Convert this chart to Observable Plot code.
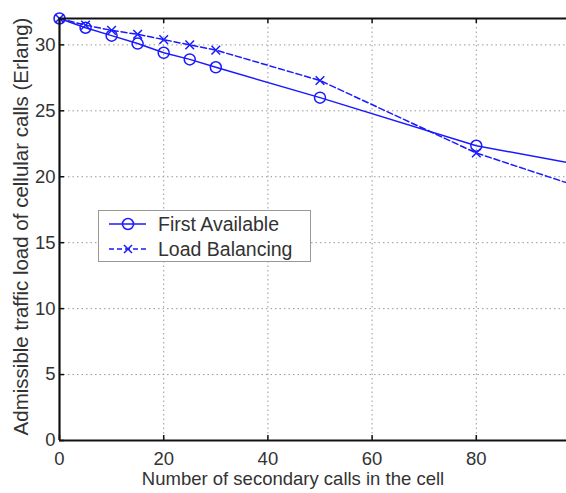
<!DOCTYPE html>
<html><head><meta charset="utf-8">
<script src="https://cdn.jsdelivr.net/npm/d3@7"></script>
<script src="https://cdn.jsdelivr.net/npm/@observablehq/plot@0.6"></script>
<style>
html,body{margin:0;padding:0;overflow:hidden;background:#fff;}
#chart{position:relative;width:566px;height:493px;overflow:hidden;font-family:"Liberation Sans",Arial,sans-serif;}
#chart > svg{display:block;max-width:none !important;width:580px;height:493px;}
#legend{position:absolute;left:98px;top:210px;width:213px;height:52px;border:1px solid #999;background:#fff;box-sizing:border-box;font-size:19.5px;color:#333;}
#legend .row{position:absolute;left:0;height:20px;}
#legend .row svg{position:absolute;left:10px;top:0;}
#legend .row span{position:absolute;left:59px;top:0;line-height:20px;white-space:nowrap;}
</style></head><body><div id="chart"><div id="legend"></div></div>
<script>
const secondaryCalls = [0, 5, 10, 15, 20, 25, 30, 50, 80, 100];
const firstAvailable = [32, 31.3, 30.7, 30.1, 29.4, 28.9, 28.3, 26.0, 22.35, 20.9];
const loadBalancing  = [32, 31.5, 31.1, 30.8, 30.4, 30.0, 29.6, 27.3, 21.8, 19.2];
const xTicks = [0, 20, 40, 60, 80];
const yTicks = [0, 5, 10, 15, 20, 25, 30];
const xDomain = [0, 100];
const yDomain = [0, 32];
const seriesNames = ["First Available", "Load Balancing"];
const xLabel = "Number of secondary calls in the cell";
const yLabel = "Admissible traffic load of cellular calls (Erlang)";

const blue = "#1a1aff";
const W = 580, H = 493, ML = 59, MT = 18, MB = 53, MR = 0;
const PW = W - ML - MR, PH = H - MT - MB;
const fa = secondaryCalls.map((x, i) => ({x, y: firstAvailable[i]}));
const lb = secondaryCalls.map((x, i) => ({x, y: loadBalancing[i]}));

const chart = Plot.plot({
  width: W, height: H,
  marginLeft: ML, marginTop: MT, marginBottom: MB, marginRight: MR,
  x: {domain: xDomain},
  y: {domain: yDomain},
  style: {fontFamily: '"Liberation Sans", Arial, sans-serif', fontSize: "18px", color: "#333", background: "#fff"},
  marks: [
    Plot.ruleX(xTicks.filter(d => d > 0), {x: d => d, stroke: "#999", strokeDasharray: "1.5,3", strokeWidth: 1}),
    Plot.ruleY(yTicks.filter(d => d > 0), {y: d => d, stroke: "#999", strokeDasharray: "1.5,3", strokeWidth: 1}),
    Plot.line(fa, {x: "x", y: "y", stroke: blue, strokeWidth: 1.5}),
    Plot.line(lb, {x: "x", y: "y", stroke: blue, strokeWidth: 1.5, strokeDasharray: "6,3"}),
    Plot.dot(fa, {x: "x", y: "y", r: 5.5, stroke: blue, fill: "none", strokeWidth: 1.5}),
    Plot.dot(lb, {x: "x", y: "y", r: 4, symbol: "times", stroke: blue, strokeWidth: 1.5}),
    Plot.ruleY([yDomain[0]], {y: d => d, stroke: "#111", strokeWidth: 2.2}),
    Plot.ruleY([yDomain[1]], {y: d => d, stroke: "#111", strokeWidth: 2.2}),
    Plot.ruleX([xDomain[0]], {x: d => d, stroke: "#111", strokeWidth: 2.2}),
    Plot.tickX(xTicks, {x: d => d, insetTop: PH - 5, stroke: "#111", strokeWidth: 1.5}),
    Plot.tickX(xTicks, {x: d => d, insetBottom: PH - 5, stroke: "#111", strokeWidth: 1.5}),
    Plot.tickY(yTicks, {y: d => d, insetRight: PW - 5, stroke: "#111", strokeWidth: 1.5}),
    Plot.axisX(xTicks, {tickSize: 0, tickPadding: 11, label: null, fontSize: 18.5}),
    Plot.axisY(yTicks, {tickSize: 0, tickPadding: 4, label: null, fontSize: 18.5}),
    Plot.text([xLabel], {frameAnchor: "bottom", textAnchor: "middle", dy: 44, dx: -27, fontSize: 18.5, fill: "#333"}),
    Plot.text([yLabel], {frameAnchor: "left", textAnchor: "middle", rotate: -90, dx: -38, dy: -3, fontSize: 20.5, fill: "#333"})
  ]
});
document.getElementById("chart").prepend(chart);

const legend = document.getElementById("legend");
seriesNames.forEach((name, i) => {
  const row = document.createElement("div");
  row.className = "row";
  row.style.top = (i === 0 ? 3 : 28) + "px";
  const marker = i === 0
    ? `<circle cx="19" cy="10" r="5.5" fill="none" stroke="${blue}" stroke-width="1.5"/>`
    : `<path d="M15,6L23,14M23,6L15,14" stroke="${blue}" stroke-width="1.5"/>`;
  row.innerHTML = `<svg width="40" height="20"><line x1="0" y1="10" x2="37" y2="10" stroke="${blue}" stroke-width="1.5" ${i === 1 ? 'stroke-dasharray="5,3"' : ''}/>${marker}</svg><span>${name}</span>`;
  legend.appendChild(row);
});
</script>
</body></html>
